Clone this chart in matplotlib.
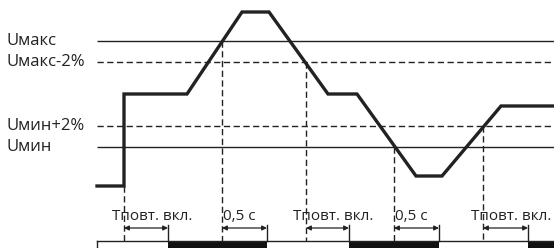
import matplotlib
matplotlib.use("Agg")
import matplotlib.pyplot as plt

# диаграмма в пикселях картинки (y вниз)
t_wave = [97, 124, 124, 187, 242, 269, 328, 357, 416, 442, 501, 554]
u_wave = [186, 186, 94, 94, 12, 12, 94, 94, 176, 176, 106, 106]

level_names = ["Uмакс", "Uмакс-2%", "Uмин+2%", "Uмин"]
level_y = [41, 62, 126, 147]
level_dashed = [False, True, True, False]

# моменты срабатывания (пересечения порогов)
event_x = [124, 222, 306, 394, 483]
event_y = [186, 41, 62, 147, 126]
event_labels = ["Тповт. вкл.", "0,5 с", "Тповт. вкл.", "0,5 с", "Тповт. вкл."]
event_end = [168, 267, 349, 439, 528]

# участки включенного реле
on_start = [168, 349, 528]
on_end = [267, 439, 554]

x0, x1 = 97, 554
bar_top = 241

fig = plt.figure(figsize=(5.54, 2.48), dpi=100)
ax = fig.add_axes([0, 0, 1, 1])
ax.set_xlim(0, 554)
ax.set_ylim(248, 0)
ax.axis("off")

font = "Open Sans"

for name, y, dashed in zip(level_names, level_y, level_dashed):
    ax.plot([x0, x1], [y, y], color="#222222", lw=1.0,
            dashes=(4.5, 2.5) if dashed else (None, None), solid_capstyle="butt")
    ax.text(6, y, name, ha="left", va="center", fontsize=12, family=font, color="#222222")

ax.plot(t_wave, u_wave, color="#222222", lw=2.4, solid_joinstyle="miter")

for x, y, lab, xe in zip(event_x, event_y, event_labels, event_end):
    ax.plot([x, x], [y, bar_top], color="#222222", lw=1.0, dashes=(4.5, 2.5))
    ax.plot([xe, xe], [225, bar_top], color="#222222", lw=1.0)
    ax.annotate("", xy=(x, 228), xytext=(xe, 228),
                arrowprops=dict(arrowstyle="<|-|>", color="#222222", lw=0.9,
                                mutation_scale=7, shrinkA=0, shrinkB=0))
    if lab.startswith("Т"):
        ax.text((x + xe) / 2 + 6, 217, lab, ha="center", va="center",
                fontsize=11, family=font, color="#222222")
    else:
        ax.text(x + 1, 217, lab, ha="left", va="center",
                fontsize=11, family=font, color="#222222")

ax.plot([x0, x1], [bar_top, bar_top], color="#222222", lw=1.0)
ax.plot([x0, x0], [bar_top, 248], color="#222222", lw=1.0)
for s, e in zip(on_start, on_end):
    ax.fill_between([s, e], bar_top, 249, color="#111111", lw=0)

fig.savefig("out.png", dpi=100)
